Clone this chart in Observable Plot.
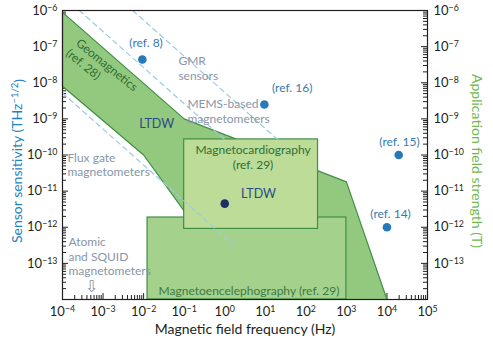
<!DOCTYPE html>
<html><head><meta charset="utf-8">
<script src="https://cdn.jsdelivr.net/npm/d3@7"></script>
<script src="https://cdn.jsdelivr.net/npm/@observablehq/plot@0.6"></script>
<style>body{margin:0;background:#fff}</style>
</head><body><div id="chart"></div>
<script>
// ---- data ----
const xExps = [-4, -3, -2, -1, 0, 1, 2, 3, 4, 5];
const yExps = [-14, -13, -12, -11, -10, -9, -8, -7, -6];
const yLabelExps = [-13, -12, -11, -10, -9, -8, -7, -6];

// LTDW region polygon (frequency Hz, sensitivity)
const regionF = [1e-4, 0.1, 1e3, 1e4, 0.5, 0.15, 1e-2, 1e-4];
const regionS = [8.9e-7, 1e-9, 1.8e-11, 1e-14, 1e-14, 1.5e-12, 1e-10, 8e-9];

// application boxes
const boxNames = ["Magnetoencelephography", "Magnetocardiography"];
const boxF1 = [0.0125, 0.1];
const boxF2 = [1e3, 200];
const boxS1 = [1e-14, 9e-13];
const boxS2 = [1.86e-12, 2.7e-10];

// dashed technology lines (start/end)
const dashF1 = [2.6e-4, 5.4e-3, 1e-4];
const dashS1 = [1e-6, 1e-6, 5.2e-9];
const dashF2 = [0.98, 20, 1.66];
const dashS2 = [2.7e-10, 2.7e-10, 3.2e-13];

// reference sensors
const refNames = ["ref. 8", "ref. 16", "ref. 15", "ref. 14"];
const refF = [9.3e-3, 9.5, 1.95e4, 1e4];
const refS = [4.4e-8, 2.5e-9, 1e-10, 1e-12];
const refLabelF = [1.15e-2, 46, 2.04e4, 1.23e4];
const refLabelS = [1.23e-7, 6.9e-9, 2.2e-10, 2.24e-12];

// LTDW point
const ltdwF = [1.0];
const ltdwS = [4.5e-12];

// grey technology labels
const techText = ["GMR\nsensors", "MEMS-based\nmagnetometers", "Flux gate\nmagnetometers", "Atomic\nand SQUID\nmagnetometers"];
const techF = [0.072, 0.12, 1.32e-4, 1.4e-4];
const techS = [2.6e-8, 1.66e-9, 5.6e-11, 1.6e-13];

const ltdwText = ["LTDW", "LTDW"];
const ltdwTextF = [0.021, 6.8];
const ltdwTextS = [7.4e-10, 8.5e-12];

const geoText = ["Geomagnetics", "(ref. 28)"];
const geoF = [2.35e-4, 1.32e-4];
const geoS = [1.38e-7, 7.2e-8];

const appText = ["Magnetocardiography\n(ref. 29)"];
const appF = [5.0];
const appS = [9.1e-11];
const megText = ["Magnetoencelephography (ref. 29)"];
const megF = [0.0234];
const megS = [1.7e-14];

const arrowF = [5.2e-4];
const arrowS = [2.2e-14];

// ---- build ----
const pow = e => Math.pow(10, e);
const xMajor = xExps.map(pow);
const yMajor = yExps.map(pow);
const minorOf = majors => majors.slice(0, -1).flatMap(d => [2,3,4,5,6,7,8,9].map(k => k * d));
const xMinor = minorOf(xMajor);
const yMinor = minorOf(yMajor);
const fmt = d => "10^" + Math.round(Math.log10(d));

const region = regionF.map((f, i) => ({f, s: regionS[i]}));
const boxes = boxNames.map((n, i) => ({n, f1: boxF1[i], f2: boxF2[i], s1: boxS1[i], s2: boxS2[i]}));
const dashes = dashF1.flatMap((f, i) => [{id: i, f, s: dashS1[i]}, {id: i, f: dashF2[i], s: dashS2[i]}]);
const refs = refNames.map((n, i) => ({n, f: refF[i], s: refS[i], lf: refLabelF[i], ls: refLabelS[i]}));

const W = 493, H = 344, ML = 62, MR = 66, MT = 10, MB = 45;
const FW = W - ML - MR, FH = H - MT - MB;
const green = "#3f8f45";
const ink = "#231f20";
// inward ticks as short rules clipped with insets
const ticksBottom = (t, size) => Plot.ruleX(t, {x: d => d, insetTop: FH - size, stroke: ink});
const ticksLeft = (t, size) => Plot.ruleY(t, {y: d => d, insetRight: FW - size, stroke: ink});
const ticksRight = (t, size) => Plot.ruleY(t, {y: d => d, insetLeft: FW - size, stroke: ink});

const svg = Plot.plot({
  width: W, height: H,
  marginLeft: ML, marginRight: MR, marginTop: MT, marginBottom: MB,
  style: {fontFamily: "Lato, 'Open Sans', sans-serif", fontSize: "12px", background: "white", color: ink},
  x: {type: "log", domain: [1e-4, 1e5], axis: null},
  y: {type: "log", domain: [1e-14, 1e-6], axis: null},
  marks: [
    ticksBottom(xMinor, 4),
    ticksBottom(xMajor, 6),
    ticksLeft(yMinor, 4),
    ticksLeft(yMajor, 6),
    ticksRight(yMinor, 4),
    ticksRight(yMajor, 6),
    Plot.axisX({anchor: "bottom", ticks: xMajor, tickSize: 0, tickPadding: 7, tickFormat: fmt, label: null, fontSize: 13}),
    Plot.axisY({anchor: "left", ticks: yLabelExps.map(pow), tickSize: 0, tickPadding: 5, tickFormat: fmt, label: null, fontSize: 13}),
    Plot.axisY({anchor: "right", ticks: yLabelExps.map(pow), tickSize: 0, tickPadding: 6, tickFormat: fmt, label: null, fontSize: 13}),
    Plot.line(region, {x: "f", y: "s", curve: "linear-closed", fill: "#93c97f", stroke: green, strokeWidth: 1.2}),
    Plot.rect(boxes, {x1: "f1", x2: "f2", y1: "s1", y2: "s2", fill: (d, i) => i === 0 ? "#a4d28c" : "#bcdc98", stroke: green, strokeWidth: 1.2}),
    Plot.line(dashes, {x: "f", y: "s", z: "id", stroke: "#9dcbe3", strokeWidth: 1.2, strokeDasharray: "5,4"}),
    Plot.dot(refs, {x: "f", y: "s", r: 4.3, fill: "#2779b9"}),
    Plot.dot(ltdwF.map((f, i) => ({f, s: ltdwS[i]})), {x: "f", y: "s", r: 4.3, fill: "#1e2e66"}),
    Plot.text(refs, {x: "lf", y: "ls", text: d => "(" + d.n + ")", fill: "#3679b3", fontSize: 12}),
    Plot.text(techText, {x: (d, i) => techF[i], y: (d, i) => techS[i], text: d => d, textAnchor: "start", fill: "#8796a8", fontSize: 12, lineHeight: 1.2}),
    Plot.text(ltdwText, {x: (d, i) => ltdwTextF[i], y: (d, i) => ltdwTextS[i], text: d => d, fill: "#2b4a86", fontSize: 12.5}),
    Plot.text(geoText, {x: (d, i) => geoF[i], y: (d, i) => geoS[i], text: d => d, textAnchor: "start", rotate: 39, fill: "#2f6e35", fontSize: 12}),
    Plot.text(appText, {x: (d, i) => appF[i], y: (d, i) => appS[i], text: d => d, fill: "#2f6e35", fontSize: 12, lineHeight: 1.25}),
    Plot.text(megText, {x: (d, i) => megF[i], y: (d, i) => megS[i], text: d => d, textAnchor: "start", fill: "#3d7a44", fontSize: 12}),
    Plot.text(["⇩"], {x: (d, i) => arrowF[i], y: (d, i) => arrowS[i], text: d => d, fill: "#8796a8", fontSize: 16, fontFamily: "DejaVu Sans"}),
    Plot.frame({stroke: ink, strokeWidth: 1.2})
  ]
});

d3.select(svg).selectAll("text").each(function () {
  const m = /^10\^(-?\d+)$/.exec(this.textContent);
  if (!m) return;
  const sel = d3.select(this);
  sel.text(null);
  sel.append("tspan").text("10");
  sel.append("tspan").attr("dy", "-0.45em").attr("font-size", "0.68em").text(m[1].replace("-", "\u2212"));
});

const S = d3.select(svg);
S.append("text").attr("x", 245).attr("y", 334).attr("text-anchor", "middle")
  .attr("font-size", 14).attr("fill", ink).text("Magnetic field frequency (Hz)");
const lt = S.append("text").attr("transform", "translate(22,161) rotate(-90)").attr("text-anchor", "middle")
  .attr("font-size", 14).attr("fill", "#1e84c1");
lt.append("tspan").text("Sensor sensitivity (THz");
lt.append("tspan").attr("dy", "-0.45em").attr("font-size", "0.68em").text("\u22121/2");
lt.append("tspan").attr("dy", "0.45em").text(")");
S.append("text").attr("transform", "translate(472,161) rotate(90)").attr("text-anchor", "middle")
  .attr("font-size", 14).attr("fill", "#72b84f").text("Application field strength (T)");

document.getElementById("chart").appendChild(svg);
</script>
</body></html>
